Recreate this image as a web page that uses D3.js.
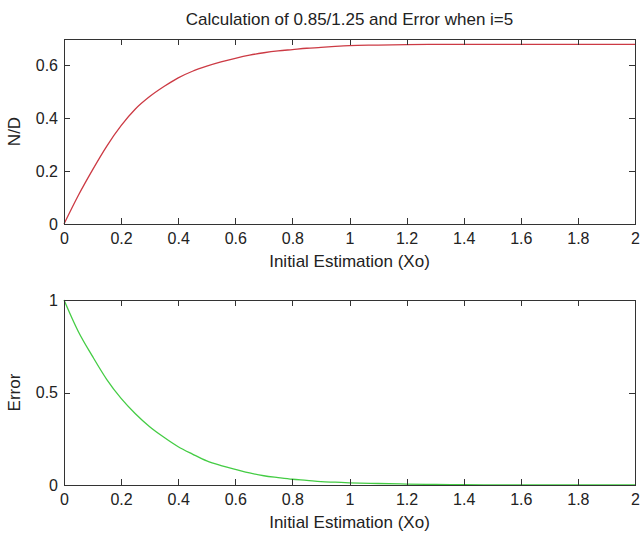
<!DOCTYPE html>
<html lang="en">
    <head>
        <meta charset="utf-8">
        <title>Calculation of 0.85/1.25 and Error</title>
        <script type="text/javascript" src="https://cdn.jsdelivr.net/npm/d3@7"></script>
        <style type="text/css">
            body { margin: 0; background: #fff; }
            .axis path, .axis line { stroke: #333; shape-rendering: crispEdges; }
            .axis text { font-family: "Liberation Sans", Arial, sans-serif; font-size: 16px; fill: #222; }
            .label { font-family: "Liberation Sans", Arial, sans-serif; font-size: 17px; fill: #222; }
        </style>
    </head>
    <body>
        <script type="text/javascript">
            //Data
            var xInit = [0, 0.05, 0.1, 0.15, 0.2, 0.25, 0.3, 0.35, 0.4, 0.45, 0.5, 0.55, 0.6, 0.65, 0.7, 0.75,
                         0.8, 0.85, 0.9, 0.95, 1.0, 1.1, 1.2, 1.3, 1.4, 1.5, 1.6, 1.7, 1.8, 1.9, 2.0];
            var ndValues = [0, 0.108, 0.205, 0.295, 0.372, 0.435, 0.482, 0.52, 0.553, 0.578, 0.597, 0.613, 0.627, 0.639, 0.648, 0.655,
                            0.660, 0.665, 0.668, 0.672, 0.675, 0.677, 0.679, 0.68, 0.68, 0.68, 0.68, 0.68, 0.68, 0.68, 0.68];
            var errValues = [1.0, 0.83, 0.695, 0.57, 0.468, 0.385, 0.315, 0.258, 0.207, 0.167, 0.13, 0.105, 0.085, 0.065, 0.05, 0.04,
                             0.031, 0.025, 0.018, 0.015, 0.012, 0.008, 0.005, 0.003, 0.002, 0.001, 0.001, 0.001, 0.001, 0.001, 0.001];
            var xTicks = [0, 0.2, 0.4, 0.6, 0.8, 1, 1.2, 1.4, 1.6, 1.8, 2];
            var ndTicks = [0, 0.2, 0.4, 0.6];
            var errTicks = [0, 0.5, 1];

            var w = 641;
            var h = 534;
            var left = 64;
            var right = 635;

            var svg = d3.select("body")
                        .append("svg")
                        .attr("width", w)
                        .attr("height", h);

            var xScale = d3.scaleLinear()
                            .domain([0, 2])
                            .range([left, right]);

            //Draw one panel: box with inward ticks, curve, labels
            function panel(top, bottom, yMax, yTicks, values, colour, yLabel) {
                var yScale = d3.scaleLinear()
                                .domain([0, yMax])
                                .range([bottom, top]);

                var line = d3.line()
                            .curve(d3.curveMonotoneX)
                            .x(function(d, i) { return xScale(xInit[i]); })
                            .y(function(d) { return yScale(d); });

                svg.append("path")
                    .datum(values)
                    .attr("d", line)
                    .attr("fill", "none")
                    .attr("stroke", colour)
                    .attr("stroke-width", 1.3);

                //Bottom and left axes with labels
                svg.append("g")
                    .attr("class", "axis")
                    .attr("transform", "translate(0," + bottom + ")")
                    .call(d3.axisBottom(xScale).tickValues(xTicks).tickSize(-6).tickSizeOuter(0)
                            .tickPadding(9).tickFormat(d3.format("")));

                svg.append("g")
                    .attr("class", "axis")
                    .attr("transform", "translate(" + left + ",0)")
                    .call(d3.axisLeft(yScale).tickValues(yTicks).tickSize(-6).tickSizeOuter(0)
                            .tickPadding(6).tickFormat(d3.format("")));

                //Top and right edges of the box, ticks only
                svg.append("g")
                    .attr("class", "axis")
                    .attr("transform", "translate(0," + top + ")")
                    .call(d3.axisTop(xScale).tickValues(xTicks).tickSize(-6).tickSizeOuter(0).tickFormat(""));

                svg.append("g")
                    .attr("class", "axis")
                    .attr("transform", "translate(" + right + ",0)")
                    .call(d3.axisRight(yScale).tickValues(yTicks).tickSize(-6).tickSizeOuter(0).tickFormat(""));

                svg.append("text")
                    .attr("class", "label")
                    .attr("x", (left + right) / 2)
                    .attr("y", bottom + 43)
                    .attr("text-anchor", "middle")
                    .text("Initial Estimation (Xo)");

                svg.append("text")
                    .attr("class", "label")
                    .attr("transform", "translate(20," + (top + bottom) / 2 + ") rotate(-90)")
                    .attr("text-anchor", "middle")
                    .text(yLabel);
            }

            panel(39, 224, 0.7, ndTicks, ndValues, "#cc3a44", "N/D");
            panel(300, 485, 1, errTicks, errValues, "#44cc44", "Error");

            svg.append("text")
                .attr("class", "label")
                .attr("x", (left + right) / 2)
                .attr("y", 25)
                .attr("text-anchor", "middle")
                .text("Calculation of 0.85/1.25 and Error when i=5");
        </script>
    </body>
</html>
